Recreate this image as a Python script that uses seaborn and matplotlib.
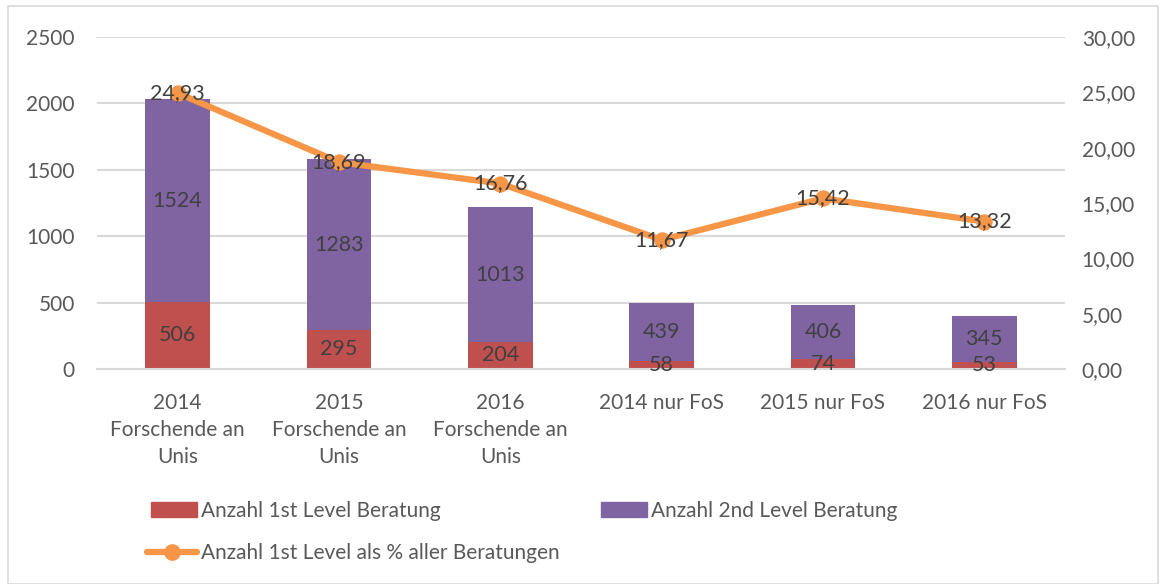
import numpy as np
import pandas as pd
import matplotlib.pyplot as plt
import matplotlib.patches as mpatches
from matplotlib.lines import Line2D
from matplotlib.ticker import FuncFormatter
import seaborn as sns

# Data
categories = ["2014\nForschende an\nUnis", "2015\nForschende an\nUnis", "2016\nForschende an\nUnis",
              "2014 nur FoS", "2015 nur FoS", "2016 nur FoS"]
first_level = [506, 295, 204, 58, 74, 53]
second_level = [1524, 1283, 1013, 439, 406, 345]
pct_first = [24.93, 18.69, 16.76, 11.67, 15.42, 13.32]

RED = "#C0504D"
PURPLE = "#8064A2"
ORANGE = "#F79646"
TXT = "#595959"
GRID = "#D9D9D9"
FS = 15

sns.set_style("white")
plt.rcParams['font.family'] = ['Lato', 'DejaVu Sans']

df = pd.DataFrame({"cat": categories, "first": first_level, "second": second_level, "pct": pct_first})

fig = plt.figure(figsize=(11.66, 5.84), dpi=100)
ax = fig.add_axes([97 / 1166, 1 - 369 / 584, (1065 - 97) / 1166, (369 - 37) / 584])
fig.patches.append(mpatches.Rectangle((8 / 1166, 0), 1 - 16 / 1166, 1 - 6 / 584, transform=fig.transFigure,
                                      fill=False, edgecolor=GRID, lw=1.2))

sns.barplot(data=df, x="cat", y="first", color=RED, width=0.4, ax=ax, saturation=1,
            linewidth=0, zorder=2)
sns.barplot(data=df, x="cat", y="second", color=PURPLE, width=0.4, ax=ax, saturation=1,
            bottom=df["first"], linewidth=0, zorder=2)

ax.set_ylim(0, 2500)
ax.set_yticks(range(0, 2501, 500))
ax.set_xlim(-0.5, 5.5)
ax.grid(axis="y", color=GRID, lw=1.5, zorder=0)
ax.set_axisbelow(True)
for s in ax.spines.values():
    s.set_visible(False)
ax.spines["bottom"].set_visible(True)
ax.spines["bottom"].set_color(GRID)
ax.spines["bottom"].set_linewidth(1.5)
ax.set_xlabel("")
ax.set_ylabel("")
ax.tick_params(axis="x", colors=TXT, labelsize=FS, length=0, pad=17)
ax.tick_params(axis="y", colors=TXT, labelsize=FS, length=0, pad=16)
for t in ax.get_xticklabels():
    t.set_linespacing(1.45)

# bar labels
for i in range(len(categories)):
    ax.text(i, first_level[i] / 2, str(first_level[i]), ha="center", va="center",
            fontsize=FS + 0.5, color="#404040", zorder=5)
    ax.text(i, first_level[i] + second_level[i] / 2, str(second_level[i]), ha="center", va="center",
            fontsize=FS + 0.5, color="#404040", zorder=5)

ax2 = ax.twinx()
ax2.set_position(ax.get_position())
sns.lineplot(x=np.arange(len(categories)), y=pct_first, ax=ax2, color=ORANGE, lw=4.5,
             marker="o", markersize=11, markeredgecolor=ORANGE, zorder=3)
ax2.set_ylim(0, 30)
ax2.set_yticks(range(0, 31, 5))
ax2.yaxis.set_major_formatter(FuncFormatter(lambda v, p: f"{v:.2f}".replace(".", ",")))
ax2.tick_params(axis="y", colors=TXT, labelsize=FS, length=0, pad=12)
for s in ax2.spines.values():
    s.set_visible(False)
ax2.grid(False)
for i, v in enumerate(pct_first):
    ax2.text(i, v, f"{v:.2f}".replace(".", ","), ha="center", va="center", fontsize=FS + 0.5,
             color="#404040", zorder=6)

# legend: two bar entries on first row, line entry on second row
fig.legend([mpatches.Patch(color=RED), mpatches.Patch(color=PURPLE)],
           ["Anzahl 1st Level Beratung", "Anzahl 2nd Level Beratung"],
           ncol=2, loc="center left", bbox_to_anchor=(132 / 1166, 1 - 511 / 584),
           frameon=False, fontsize=FS, labelcolor=TXT, handlelength=2.2, handletextpad=0.2,
           columnspacing=7.7)
fig.legend([Line2D([0], [0], color=ORANGE, lw=4.5, marker="o", markersize=11)],
           ["Anzahl 1st Level als % aller Beratungen"],
           loc="center left", bbox_to_anchor=(128 / 1166, 1 - 553 / 584),
           frameon=False, fontsize=FS, labelcolor=TXT, handlelength=2.4, handletextpad=0.2)

fig.savefig("out.png", dpi=100)
